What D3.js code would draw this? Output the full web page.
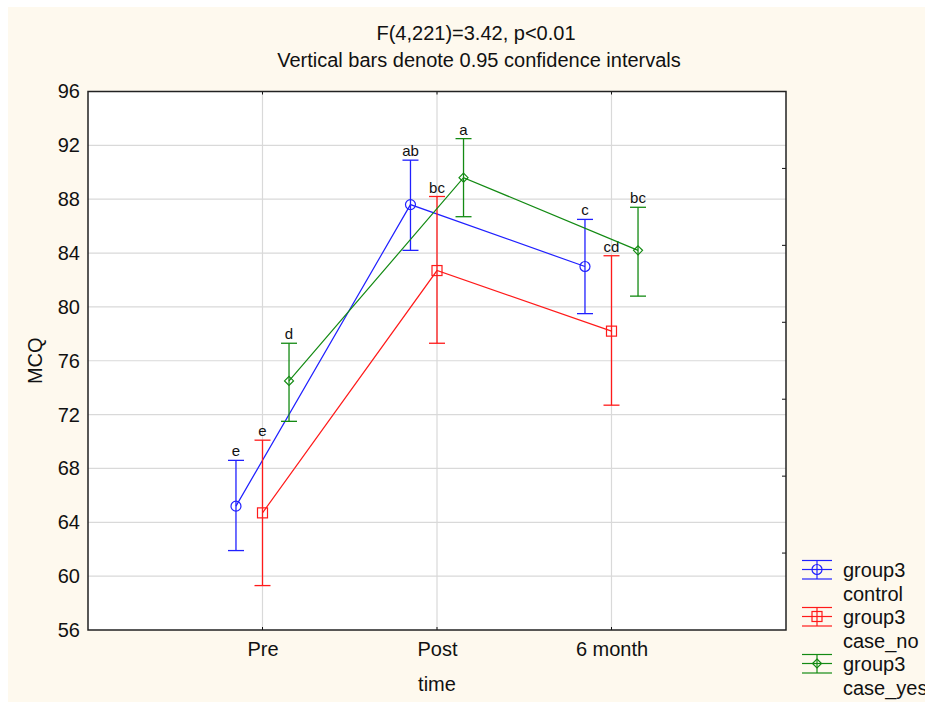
<!DOCTYPE html>
<html>
<head>
<meta charset="utf-8">
<script src="https://cdn.jsdelivr.net/npm/d3@7"></script>
<style>
  body { margin: 0; background: #fff; }
  svg { display: block; font-family: "Liberation Sans", Arial, sans-serif; }
</style>
</head>
<body>
<script>
// chart values
const times = ["Pre", "Post", "6 month"];
const groups = ["control", "case_no", "case_yes"];
const colors = ["#2020ff", "#ff1a1a", "#138a13"];
const symbols = ["circle", "square", "diamond"];

const controlMean = [65.2, 87.6, 83.0];
const controlLow = [61.9, 84.2, 79.5];
const controlHigh = [68.6, 90.9, 86.5];
const controlLetters = ["e", "ab", "c"];

const caseNoMean = [64.7, 82.7, 78.2];
const caseNoLow = [59.3, 77.3, 72.7];
const caseNoHigh = [70.1, 88.2, 83.8];
const caseNoLetters = ["e", "bc", "cd"];

const caseYesMean = [74.5, 89.6, 84.2];
const caseYesLow = [71.5, 86.7, 80.8];
const caseYesHigh = [77.3, 92.5, 87.4];
const caseYesLetters = ["d", "a", "bc"];

const yTicks = [56, 60, 64, 68, 72, 76, 80, 84, 88, 92, 96];

const series = [
  {mean: controlMean, low: controlLow, high: controlHigh, letters: controlLetters},
  {mean: caseNoMean, low: caseNoLow, high: caseNoHigh, letters: caseNoLetters},
  {mean: caseYesMean, low: caseYesLow, high: caseYesHigh, letters: caseYesLetters}
];

const width = 925, height = 702;
const margin = {top: 91.5, right: 139, bottom: 72, left: 88};
const fs = 20;

const svg = d3.select("body").append("svg")
    .attr("width", width)
    .attr("height", height);

svg.append("rect")
    .attr("x", 8).attr("y", 7)
    .attr("width", width - 8).attr("height", height - 7)
    .attr("fill", "#fef9ee");

const x = d3.scaleLinear()
    .domain([0, 4])
    .range([margin.left, width - margin.right]);

const y = d3.scaleLinear()
    .domain([56, 96])
    .range([height - margin.bottom, margin.top]);

const offset = 0.152;

svg.append("rect")
    .attr("x", x(0)).attr("y", y(96))
    .attr("width", x(4) - x(0)).attr("height", y(56) - y(96))
    .attr("fill", "#fff");

// grid
svg.append("g")
  .selectAll("line")
  .data(yTicks.slice(1, -1))
  .join("line")
    .attr("x1", x(0)).attr("x2", x(4))
    .attr("y1", d => y(d)).attr("y2", d => y(d))
    .attr("stroke", "#d9d9d9").attr("stroke-width", 1.2);

svg.append("g")
  .selectAll("line")
  .data(times)
  .join("line")
    .attr("x1", (d, i) => x(i + 1)).attr("x2", (d, i) => x(i + 1))
    .attr("y1", y(96)).attr("y2", y(56))
    .attr("stroke", "#d9d9d9").attr("stroke-width", 1.2);

// axes
svg.append("g")
    .attr("transform", `translate(${x(0)},0)`)
    .call(d3.axisLeft(y).tickValues(yTicks).tickSize(0).tickPadding(8))
    .call(g => g.select(".domain").remove())
    .call(g => g.selectAll("text").attr("font-size", fs).attr("fill", "#111")
        .attr("font-family", "Liberation Sans, Arial, sans-serif"));

svg.append("g")
    .attr("transform", `translate(0,${y(56)})`)
    .call(d3.axisBottom(x).tickValues([1, 2, 3]).tickFormat((d, i) => times[i]).tickSize(0).tickPadding(12))
    .call(g => g.select(".domain").remove())
    .call(g => g.selectAll("text").attr("font-size", fs).attr("fill", "#111")
        .attr("font-family", "Liberation Sans, Arial, sans-serif"));

// inner ticks on bottom, top and right
const tickG = svg.append("g").attr("stroke", "#111").attr("stroke-width", 1);
tickG.selectAll(".tb").data([1, 2, 3]).join("line")
    .attr("x1", d => x(d)).attr("x2", d => x(d))
    .attr("y1", y(56)).attr("y2", y(56) - 3);
tickG.selectAll(".tt").data([1, 2, 3]).join("line")
    .attr("x1", d => x(d)).attr("x2", d => x(d))
    .attr("y1", y(96)).attr("y2", y(96) + 3);
const yr = d3.scaleLinear().domain([0, 7]).range([y(56), y(96)]);
tickG.selectAll(".tr").data(d3.range(1, 7)).join("line")
    .attr("x1", x(4)).attr("x2", x(4) - 4)
    .attr("y1", d => yr(d)).attr("y2", d => yr(d));

svg.append("rect")
    .attr("x", x(0)).attr("y", y(96))
    .attr("width", x(4) - x(0)).attr("height", y(56) - y(96))
    .attr("fill", "none").attr("stroke", "#222").attr("stroke-width", 1.5);

// axis titles
svg.append("text")
    .attr("transform", `translate(42,${(y(56) + y(96)) / 2}) rotate(-90)`)
    .attr("text-anchor", "middle")
    .attr("font-size", fs).attr("fill", "#111")
    .text("MCQ");

svg.append("text")
    .attr("x", (x(0) + x(4)) / 2).attr("y", 691)
    .attr("text-anchor", "middle")
    .attr("font-size", fs).attr("fill", "#111")
    .text("time");

svg.append("text")
    .attr("x", 476).attr("y", 39.5)
    .attr("text-anchor", "middle")
    .attr("font-size", fs).attr("fill", "#111")
    .text("F(4,221)=3.42, p<0.01");

svg.append("text")
    .attr("x", 479).attr("y", 67)
    .attr("text-anchor", "middle")
    .attr("font-size", fs).attr("fill", "#111")
    .text("Vertical bars denote 0.95 confidence intervals");

// markers
function marker(g, type, color) {
  if (type === "circle") {
    g.append("circle").attr("r", 5).attr("fill", "none").attr("stroke", color).attr("stroke-width", 1.2);
  } else if (type === "square") {
    g.append("rect").attr("x", -5).attr("y", -5).attr("width", 10).attr("height", 10)
        .attr("fill", "none").attr("stroke", color).attr("stroke-width", 1.2);
  } else {
    g.append("path").attr("d", "M0,-4.5L4.5,0L0,4.5L-4.5,0Z")
        .attr("fill", "none").attr("stroke", color).attr("stroke-width", 1.2);
  }
}

const capW = 8;
series.forEach((s, gi) => {
  const color = colors[gi];
  const px = i => x(i + 1 + (gi - 1) * offset);
  const g = svg.append("g");

  g.append("path")
      .datum(s.mean)
      .attr("fill", "none")
      .attr("stroke", color)
      .attr("stroke-width", 1.2)
      .attr("d", d3.line().x((d, i) => px(i)).y(d => y(d)));

  s.mean.forEach((m, i) => {
    const cx = px(i);
    g.append("line").attr("x1", cx).attr("x2", cx)
        .attr("y1", y(s.low[i])).attr("y2", y(s.high[i]))
        .attr("stroke", color).attr("stroke-width", 1.3);
    [s.low[i], s.high[i]].forEach(v => {
      g.append("line").attr("x1", cx - capW).attr("x2", cx + capW)
          .attr("y1", y(v)).attr("y2", y(v))
          .attr("stroke", color).attr("stroke-width", 1.3);
    });
    marker(g.append("g").attr("transform", `translate(${cx},${y(m)})`), symbols[gi], color);
    g.append("text")
        .attr("x", cx).attr("y", y(s.high[i]) - 4)
        .attr("text-anchor", "middle")
        .attr("font-size", 15).attr("fill", "#111")
        .text(s.letters[i]);
  });
});

// legend
const legend = svg.append("g");
groups.forEach((name, gi) => {
  const cy = 569.5 + gi * 47;
  const color = colors[gi];
  const lg = legend.append("g");
  [-9, 0, 9.5].forEach(dy => {
    lg.append("line").attr("x1", 802).attr("x2", 832)
        .attr("y1", cy + dy).attr("y2", cy + dy)
        .attr("stroke", color).attr("stroke-width", 1.2);
  });
  lg.append("line").attr("x1", 817).attr("x2", 817)
      .attr("y1", cy - 9).attr("y2", cy + 9.5)
      .attr("stroke", color).attr("stroke-width", 1.2);
  marker(lg.append("g").attr("transform", `translate(817,${cy})`), symbols[gi], color);
  lg.append("text").attr("x", 843).attr("y", cy + 7.5)
      .attr("font-size", fs).attr("fill", "#111").text("group3");
  lg.append("text").attr("x", 843).attr("y", cy + 31.5)
      .attr("font-size", fs).attr("fill", "#111").text(name);
});
</script>
</body>
</html>
